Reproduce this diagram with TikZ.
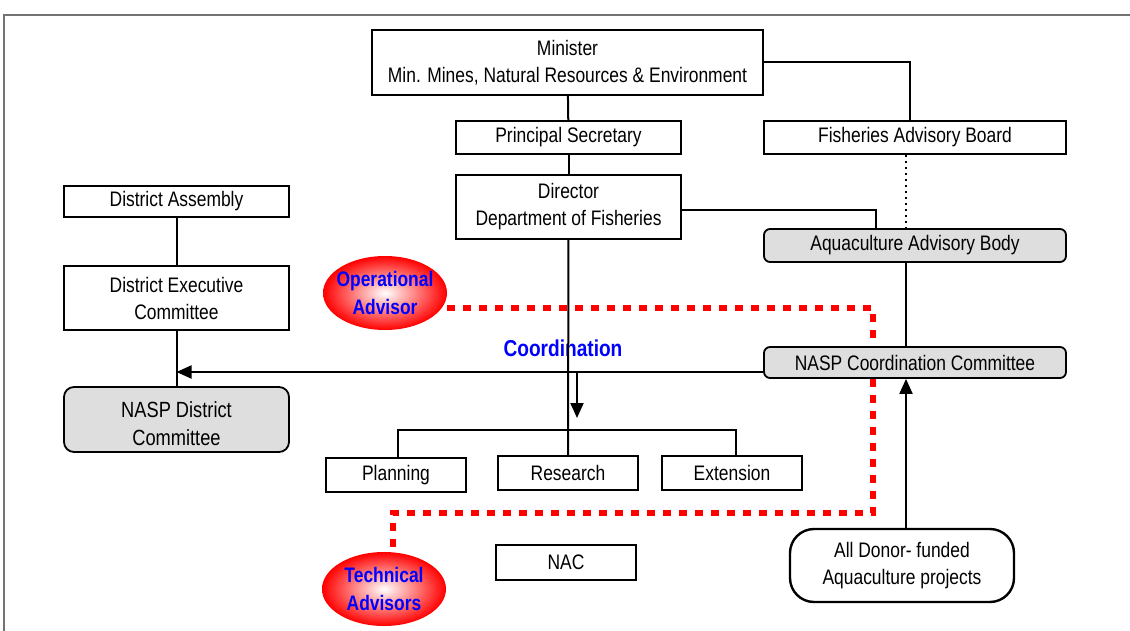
\documentclass[tikz,border=0pt]{standalone}
\usepackage{fontspec}
\setmainfont[FakeStretch=0.83]{Liberation Sans}
\usetikzlibrary{arrows.meta,shapes.geometric}

\begin{document}
\begin{tikzpicture}[
      x=0.5pt, y=-0.5pt,
      font=\fontsize{10.5}{13.5}\selectfont,
      box/.style={
          rectangle, draw, line width=1.2pt,
          align=center,
          inner sep=1pt
        },
      greybox/.style={box, fill=black!13, rounded corners=3pt, line width=0.9pt},
      advisor/.style={
          ellipse, inner color=white, outer color=red,
          text=blue, align=center,
          inner xsep=-6pt, inner ysep=-4pt, % keep the ellipse as small as the drawing
          font=\fontsize{10.5}{14}\selectfont\bfseries,
          minimum width=62pt, minimum height=37pt
        },
      link/.style={line width=1pt},
      arr/.style={link, -{Triangle[length=7.5pt,width=6.5pt]}},
      advline/.style={red, line width=3pt, dash pattern=on 4pt off 4pt},
      frame/.style={draw=black!55, line width=1pt},
    ]
    \useasboundingbox (0,0) rectangle (1130,631);
    \draw[frame] (4,631) -- (4,15) -- (1130,15);

    % ministry column
    \node[box, minimum width=195.5pt, minimum height=32.5pt] (minister) at (567.5,62.5)
      {Minister\\Min. Mines, Natural Resources \& Environment};
    \node[box, minimum width=112.5pt, minimum height=16.5pt] (psec) at (568.5,137.5) {Principal Secretary};
    \node[box, minimum width=112.5pt, minimum height=32pt] (director) at (568.5,207)
      {Director\\Department of Fisheries};
    \node[box, minimum width=70pt, minimum height=17pt] (planning) at (396,475) {Planning};
    \node[box, minimum width=70pt, minimum height=17pt] (research) at (568,473) {Research};
    \node[box, minimum width=70pt, minimum height=17pt] (extension) at (732,473) {Extension};
    \node[box, minimum width=70pt, minimum height=17.5pt] (nac) at (566,562.5) {NAC};

    % advisory side
    \node[box, minimum width=151pt, minimum height=16.5pt] (fab) at (915,137.5) {Fisheries Advisory Board};
    \node[greybox, minimum width=151pt, minimum height=16.5pt] (aab) at (915,245.5) {Aquaculture Advisory Body};
    \node[greybox, minimum width=151pt, minimum height=15.5pt] (ncc) at (915,362.5) {NASP Coordination Committee};
    \node[box, rounded corners=12pt, minimum width=112pt, minimum height=36.5pt] (donor) at (902,565.5)
      {All Donor- funded\\Aquaculture projects};

    % district side
    \node[box, minimum width=112.5pt, minimum height=15.5pt] (dassembly) at (176.5,201.5) {District Assembly};
    \node[box, minimum width=112.5pt, minimum height=32pt] (dexec) at (176.5,298)
      {District Executive\\Committee};
    \node[greybox, rounded corners=5pt, minimum width=112.5pt, minimum height=32.5pt,
      label={[align=center, font=\fontsize{11}{14}\selectfont, yshift=-2pt]center:NASP District\\Committee}]
      (ndc) at (176.5,419.5) {};

    \node[advisor] (opadv) at (385,293) {Operational\\Advisor};
    \node[advisor] (techadv) at (384,589) {Technical\\Advisors};
    \node[text=blue, font=\fontsize{11.5}{14}\selectfont\bfseries] (coordlbl) at (563,348) {Coordination};

    \coordinate (fork) at (568,430);
    \coordinate (splitpt) at (577,372);

    \draw[link] (minister) -- (psec);
    \draw[link] (minister.east) -| ([xshift=-2.5pt]fab.north);
    \draw[link] (psec) -- (director);
    \draw[link] ([yshift=-1.5pt]director.east) -| ([xshift=-19.5pt]aab.north);
    \draw[link, dash pattern=on 1pt off 2pt] ([xshift=-4.5pt]fab.south) -- ([xshift=-4.5pt]aab.north);
    \draw[link] ([xshift=-4.5pt]aab.south) -- ([xshift=-4.5pt]ncc.north);
    \draw[arr] ([xshift=2pt]donor.north) -- ([xshift=-4.5pt]ncc.south);
    \draw[link] (dassembly) -- (dexec);
    \draw[link] (dexec) -- (ndc);
    \draw[arr] ([yshift=-4.75pt]ncc.west) -- ([yshift=-4.75pt]ncc.west -| ndc.north);
    \draw[link] (director) -- (research);
    \draw[link] ([xshift=1pt]planning.north) |- (fork) -| ([xshift=2pt]extension.north);
    \draw[arr] (splitpt) -- ++(0,46);

    % advisor links
    \draw[advline] ([yshift=-7.5pt]opadv.east) -| ([xshift=-21pt]ncc.north);
    \draw[advline] ([xshift=-21pt]ncc.south) -- ++(0,134) -| ([xshift=4.5pt]techadv.north);
  \end{tikzpicture}
\end{document}
